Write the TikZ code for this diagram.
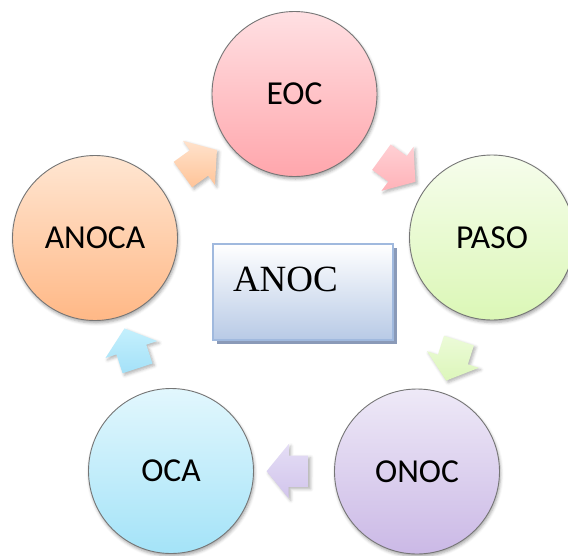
\documentclass[tikz,border=0pt]{standalone}
\usepackage{fontspec}
\setmainfont{Liberation Serif}
\newfontfamily\calibrifont{Carlito}
\usetikzlibrary{shapes.arrows,shadows,shadows.blur}

\definecolor{eocT}{RGB}{255,224,227}
\definecolor{eocB}{RGB}{255,166,172}
\definecolor{pasoT}{RGB}{246,253,236}
\definecolor{pasoB}{RGB}{219,247,182}
\definecolor{onocT}{RGB}{238,233,247}
\definecolor{onocB}{RGB}{203,185,230}
\definecolor{ocaT}{RGB}{226,247,253}
\definecolor{ocaB}{RGB}{164,227,248}
\definecolor{anocaT}{RGB}{255,230,210}
\definecolor{anocaB}{RGB}{255,184,134}
\definecolor{arAT}{RGB}{255,226,204}
\definecolor{arAB}{RGB}{255,196,152}
\definecolor{arET}{RGB}{255,208,212}
\definecolor{arEB}{RGB}{255,178,184}
\definecolor{arPT}{RGB}{236,251,216}
\definecolor{arPB}{RGB}{220,246,186}
\definecolor{arOT}{RGB}{228,221,245}
\definecolor{arOB}{RGB}{210,197,236}
\definecolor{arCT}{RGB}{196,240,253}
\definecolor{arCB}{RGB}{164,225,248}
\definecolor{ringgray}{RGB}{118,118,118}
\definecolor{boxborder}{RGB}{160,185,222}
\definecolor{boxbottom}{RGB}{184,202,230}
\definecolor{boxshadow}{RGB}{138,154,184}

\begin{document}
\begin{tikzpicture}[x=1pt,y=-1pt,
  bubble/.style 2 args={circle, minimum size=165pt, inner sep=0pt,
    draw=ringgray, line width=0.9pt, top color=#1, bottom color=#2,
    font=\calibrifont\fontsize{33.5}{40}\selectfont,
    blur shadow={shadow xshift=1pt, shadow yshift=-2.5pt,
      shadow blur radius=3pt, shadow opacity=35}},
  cyclearrow/.style 2 args={single arrow, draw=none, top color=#1, bottom color=#2,
    inner sep=0pt, text height=31pt, text depth=0pt, text width=0pt,
    minimum height=42pt, single arrow head extend=11.5pt,
    single arrow tip angle=101.7,
    blur shadow={shadow xshift=2pt, shadow yshift=-2pt,
      shadow blur radius=3pt, shadow opacity=30}},
  centerbox/.style={rectangle, draw=boxborder, line width=1.5pt,
    top color=white, bottom color=boxbottom,
    text width=180pt, inner xsep=0pt, inner ysep=0pt,
    text height=47pt, text depth=49pt, align=left,
    general shadow={fill=boxshadow, shadow xshift=4pt, shadow yshift=-4pt},
    font=\fontsize{37}{44}\selectfont}
]
\useasboundingbox (0,0) rectangle (568,555);

\node[bubble={eocT}{eocB}]     (eoc)   at (294.5,94)  {EOC};
\node[bubble={pasoT}{pasoB}]   (paso)  at (492,237.5) {PASO};
\node[bubble={onocT}{onocB}]   (onoc)  at (417,471.5) {ONOC};
\node[bubble={ocaT}{ocaB}]     (oca)   at (171,471)   {OCA};
\node[bubble={anocaT}{anocaB}] (anoca) at (95,238)    {ANOCA};

\path[allow upside down] (anoca) -- node[sloped, cyclearrow={arAT}{arAB}] (a1) {} (eoc);
\path[allow upside down] (eoc)   -- node[sloped, cyclearrow={arET}{arEB}] (a2) {} (paso);
\path[allow upside down] (paso)  -- node[sloped, cyclearrow={arPT}{arPB}] (a3) {} (onoc);
\path[allow upside down] (onoc)  -- node[sloped, cyclearrow={arOT}{arOB}] (a4) {} (oca);
\path[allow upside down] (oca)   -- node[sloped, cyclearrow={arCT}{arCB}] (a5) {} (anoca);

\node[centerbox] (anoc) at (303,292) {\hspace*{20pt}ANOC};
\end{tikzpicture}
\end{document}
